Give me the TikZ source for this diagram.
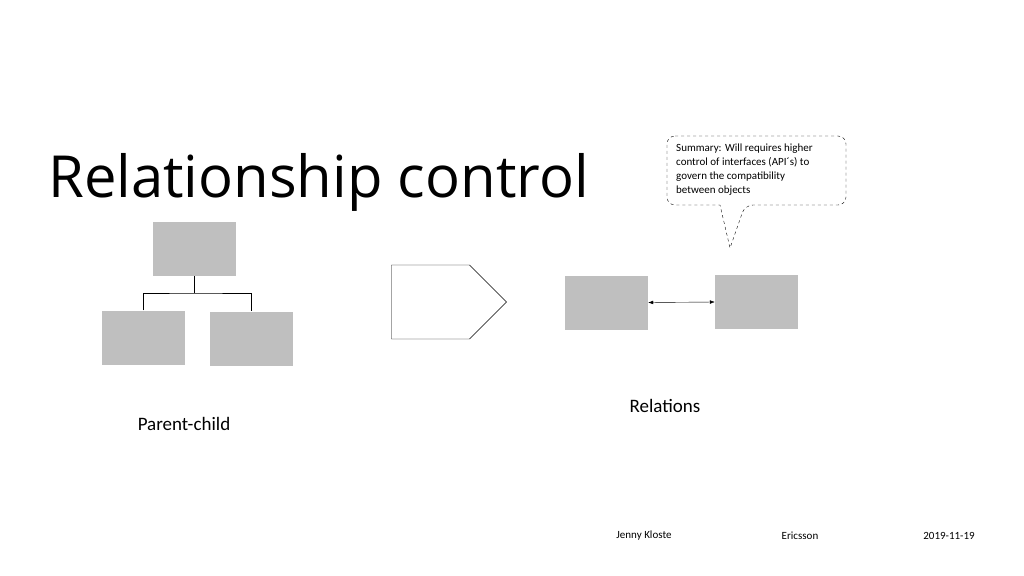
\documentclass[tikz,border=0pt]{standalone}
\usepackage{fontspec}
\setmainfont{Carlito}
\newfontfamily\titlefont{Open Sans}
\usetikzlibrary{positioning, arrows.meta, shapes.arrows}

\tikzset{
  box/.style={fill=black!25, minimum width=83pt, minimum height=54pt, inner sep=0pt},
  lbl/.style={font=\fontsize{19}{22}\selectfont},
  foot/.style={font=\fontsize{11}{13}\selectfont},
}

\begin{document}
\begin{tikzpicture}[x=1pt, y=-1pt]
    \useasboundingbox (0,0) rectangle (1024,575);

    % Title
    \node [anchor=west, inner sep=0pt, font=\titlefont\fontsize{58}{64}\selectfont] (title) at (48,182) {Relationship control};

    % Parent-child tree
    \node [box] (parent) at (194.5,249) {};
    \node [box] (child1) at (143,337.5) {};
    \node [box] (child2) at (251,338.5) {};
    \coordinate (fork) at (194.5,293);
    \draw (parent.south) -- (fork);
    \draw (child1.north) |- (fork) -| (child2.north);
    \node [lbl] (pclabel) at (184,424) {Parent-child};

    % Block arrow
    \node [draw, single arrow, minimum width=74pt, single arrow head extend=0pt, minimum height=115pt, inner sep=0pt, fill=white,
           single arrow tip angle=90] (bigarrow) at (430.5,302) {};

    % Relations
    \node [box] (relA) at (606.5,302.5) {};
    \node [box] (relB) at (756.5,302) {};
    \draw [{Latex[length=5pt]}-{Latex[length=5pt]}] (relA.east) -- (relB.west);
    \node [lbl] (rellabel) at (665,406) {Relations};

    % Callout
    \draw [dashed, rounded corners=8pt] (667,136) -- (846,136) -- (846,205) -- (745,205)
        [sharp corners] -- (730,248) -- (720,205) [rounded corners=8pt] -- (667,205) -- cycle;
    \node [anchor=north west, align=left, inner sep=0pt, font=\fontsize{11}{14}\selectfont] (summary) at (676,144)
        {Summary: Will requires higher\\control of interfaces (API´s) to\\govern the compatibility\\between objects};

    % Footer
    \node [foot] (author) at (644,536) {Jenny Kloste};
    \node [foot] (company) at (800,536) {Ericsson};
    \node [foot] (date) at (949,536) {2019-11-19};
\end{tikzpicture}
\end{document}
